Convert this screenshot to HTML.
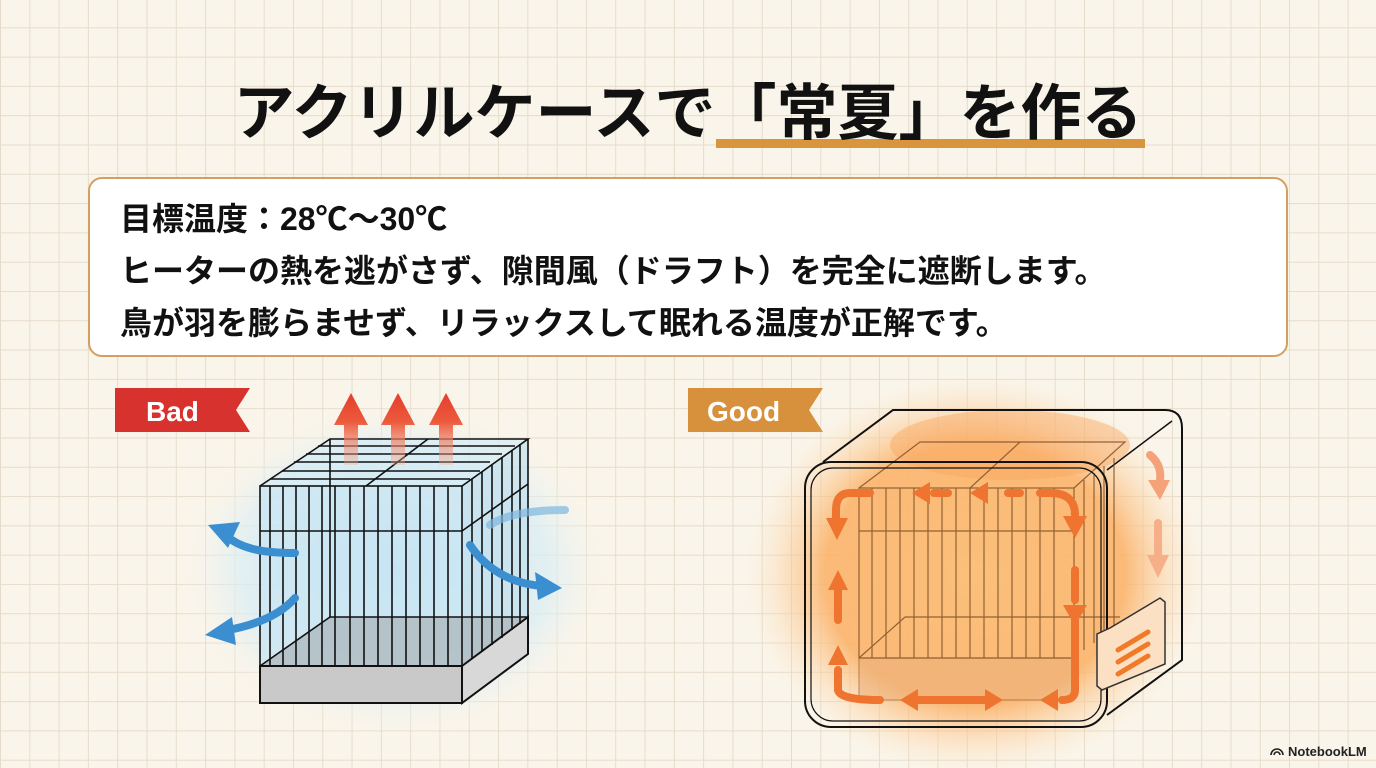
<!DOCTYPE html>
<html><head><meta charset="utf-8"><style>
body{margin:0;width:1376px;height:768px;overflow:hidden;background-color:#faf5ea;
background-image:linear-gradient(#e6dccb 1px,transparent 1px),linear-gradient(90deg,#e6dccb 1px,transparent 1px);
background-size:29.3px 29.3px;background-position:0 -2px;font-family:"Liberation Sans","Noto Sans CJK JP",sans-serif;position:relative}
.t{position:absolute;white-space:nowrap;font-weight:bold;color:#111}
</style></head><body>
<div style="position:absolute;left:716px;top:139px;width:429px;height:9px;background:#d9953e"></div>
<div class="t" style="left:0;width:1376px;text-align:center;top:73px;font-size:61px;line-height:80px">アクリルケースで「常夏」を作る</div>
<div style="position:absolute;left:88px;top:177px;width:1196px;height:176px;background:#fff;border:2px solid #d2a062;border-radius:14px"></div>
<div class="t" style="left:120px;top:193px;font-size:32px;line-height:52px">目標温度：28℃〜30℃<br>ヒーターの熱を逃がさず、隙間風（ドラフト）を完全に遮断します。<br>鳥が羽を膨らませず、リラックスして眠れる温度が正解です。</div>
<svg width="1376" height="768" style="position:absolute;left:0;top:0">
<defs>
<radialGradient id="bl" cx="50%" cy="50%" r="50%"><stop offset="0" stop-color="#bfe2f3"/><stop offset="0.7" stop-color="#d8edf5" stop-opacity=".7"/><stop offset="1" stop-color="#faf5ea" stop-opacity="0"/></radialGradient>
<radialGradient id="og" cx="50%" cy="50%" r="50%"><stop offset="0" stop-color="#fbc07a"/><stop offset="0.65" stop-color="#fbb36a" stop-opacity=".9"/><stop offset="1" stop-color="#fde3c2" stop-opacity="0"/></radialGradient>
<linearGradient id="ra" x1="0" y1="1" x2="0" y2="0"><stop offset="0" stop-color="#f4a78d" stop-opacity=".3"/><stop offset=".6" stop-color="#ec5a3c"/><stop offset="1" stop-color="#e43d2d"/></linearGradient>
</defs>
<polygon points="115,388 250,388 236,410 250,432 115,432" fill="#d8322e"/>
<text x="146" y="421" font-size="28" font-weight="bold" fill="#fff" font-family="Liberation Sans,sans-serif">Bad</text>
<polygon points="688,388 823,388 809,410 823,432 688,432" fill="#d7913d"/>
<text x="707" y="421" font-size="28" font-weight="bold" fill="#fff" font-family="Liberation Sans,sans-serif">Good</text>
<!-- Bad cage -->
<ellipse cx="395" cy="570" rx="220" ry="170" fill="url(#bl)"/>
<polygon points="260,486 462,486 528,439 330,439" fill="#d2ebf6" opacity=".6"/>
<rect x="260" y="486" width="202" height="180" fill="#c9e6f3" opacity=".7"/>
<polygon points="462,486 528,439 528,617 462,666" fill="#c2e0ee" opacity=".7"/>
<polygon points="260,666 462,666 528,617 330,617" fill="#aab3b8" opacity=".7"/>
<rect x="260" y="666" width="202" height="37" fill="#c9c9c9" stroke="#111" stroke-width="2"/>
<polygon points="462,666 528,617 528,654 462,703" fill="#d8d8d8" stroke="#111" stroke-width="2"/>
<g stroke="#111" stroke-width="1.6" fill="none">
<rect x="260" y="486" width="202" height="180"/>
<polyline points="260,486 330,439 528,439 462,486"/>
<line x1="528" y1="439" x2="528" y2="617"/>
<line x1="260" y1="531" x2="462" y2="531"/>
<line x1="462" y1="531" x2="528" y2="484"/>
<line x1="366" y1="486" x2="428" y2="439"/>
<path d="M270,486V666M283,486V666M296,486V666M309,486V666M322,486V666M335,486V666M350,486V666M364,486V666M378,486V666M392,486V666M406,486V666M420,486V666M434,486V666M448,486V666"/>
<path d="M472,479V659M482,472V652M492,465V645M502,458V638M512,450V630M520,444V624"/>
<path d="M270,479H470M282,471H480M294,462H490M306,454H502M318,446H515"/>
<line x1="330" y1="439" x2="330" y2="617"/>
<line x1="260" y1="666" x2="330" y2="617"/><line x1="330" y1="617" x2="528" y2="617"/>
</g>
<g fill="url(#ra)">
<path d="M344,465h14v-40h10l-17,-32l-17,32h10z"/>
<path d="M391,465h14v-40h10l-17,-32l-17,32h10z"/>
<path d="M439,465h14v-40h10l-17,-32l-17,32h10z"/>
</g>
<g fill="none" stroke="#3b8fd0" stroke-width="8" stroke-linecap="round">
<path d="M295,553 C260,553 240,548 225,535"/>
<path d="M295,598 C280,615 255,625 228,630"/>
<path d="M470,545 C490,575 520,585 545,586"/>
<path d="M490,525 C505,515 530,510 565,510" stroke="#7db7e0" opacity=".7"/>
</g>
<g fill="#3b8fd0">
<polygon points="208,525 240,522 228,548"/>
<polygon points="205,635 232,617 236,645"/>
<polygon points="562,588 535,572 538,600"/>
</g>
<!-- Good case -->
<ellipse cx="975" cy="575" rx="230" ry="200" fill="url(#og)"/>
<ellipse cx="1010" cy="445" rx="120" ry="35" fill="#f9a660" opacity=".45"/>
<path d="M823,462 L893,410 H1165 Q1182,410 1182,428 V660 L1107,715" fill="none" stroke="#111" stroke-width="2"/>
<line x1="1107" y1="470" x2="1172" y2="421" stroke="#111" stroke-width="1.5"/>
<g stroke="#7a4a22" stroke-width="1.2" fill="none" opacity=".8">
<rect x="859" y="658" width="215" height="42" fill="#e9b07a" opacity=".6"/>
<rect x="859" y="488" width="215" height="170"/>
<polyline points="859,488 920,442 1125,442 1074,488"/>
<line x1="859" y1="531" x2="1074" y2="531"/>
<path d="M872,488V658M886,488V658M900,488V658M914,488V658M928,488V658M942,488V658M956,488V658M970,488V658M984,488V658M998,488V658M1012,488V658M1026,488V658M1040,488V658M1054,488V658"/>
<path d="M1084,480V650M1094,473V643M1104,466V636M1114,458V628"/>
<line x1="970" y1="488" x2="1020" y2="442"/>
<line x1="859" y1="658" x2="905" y2="617"/><line x1="905" y1="617" x2="1120" y2="617"/>
</g>
<rect x="805" y="462" width="302" height="265" rx="26" fill="none" stroke="#111" stroke-width="2"/>
<rect x="811" y="468" width="290" height="253" rx="22" fill="none" stroke="#111" stroke-width="1.2"/>
<polygon points="1110,628 1160,598 1165,602 1165,664 1102,690 1097,686 1097,634" fill="#fce0c4" stroke="#333" stroke-width="1.5"/>
<g stroke="#f07a28" stroke-width="5" fill="none" stroke-linecap="round">
<path d="M1118,650 L1148,632 M1118,662 L1148,644 M1118,674 L1148,656"/>
</g>
<g fill="none" stroke="#ee7430" stroke-width="8" stroke-linecap="round">
<path d="M870,493 H850 Q836,493 836,510 V520"/>
<path d="M934,493 H948"/><path d="M1008,493 H1020"/>
<path d="M1040,493 H1050 Q1075,493 1075,515"/>
<path d="M1075,570 V600"/>
<path d="M1075,620 V690 Q1075,700 1062,700"/>
<path d="M838,620 V580"/>
<path d="M838,670 V690 Q840,700 880,700"/>
<path d="M918,700 H985"/>
<path d="M1150,455 Q1162,465 1160,480" stroke="#f5a27a"/>
<path d="M1158,523 V555" stroke="#f5b08a"/>
</g>
<g fill="#ee7430">
<polygon points="826,518 848,518 837,540"/><polygon points="912,493 930,482 930,504"/>
<polygon points="970,493 988,482 988,504"/><polygon points="1063,516 1087,516 1075,538"/>
<polygon points="1063,605 1087,605 1075,626"/><polygon points="1040,700 1058,689 1058,711"/>
<polygon points="828,590 848,590 838,570"/><polygon points="828,665 848,665 838,645"/>
<polygon points="900,700 918,689 918,711"/><polygon points="1003,700 985,689 985,711"/>
<polygon points="1148,480 1170,480 1160,500" fill="#f5a27a"/><polygon points="1147,555 1169,555 1158,578" fill="#f5b08a"/>
</g>
<text x="1288" y="756" font-size="13" font-weight="bold" fill="#222" font-family="Liberation Sans,sans-serif">NotebookLM</text>
<path d="M1271,755 a6,6 0 0 1 12,0 M1274,755 a3,3 0 0 1 6,0" stroke="#222" stroke-width="1.6" fill="none"/>
</svg>
</body></html>
